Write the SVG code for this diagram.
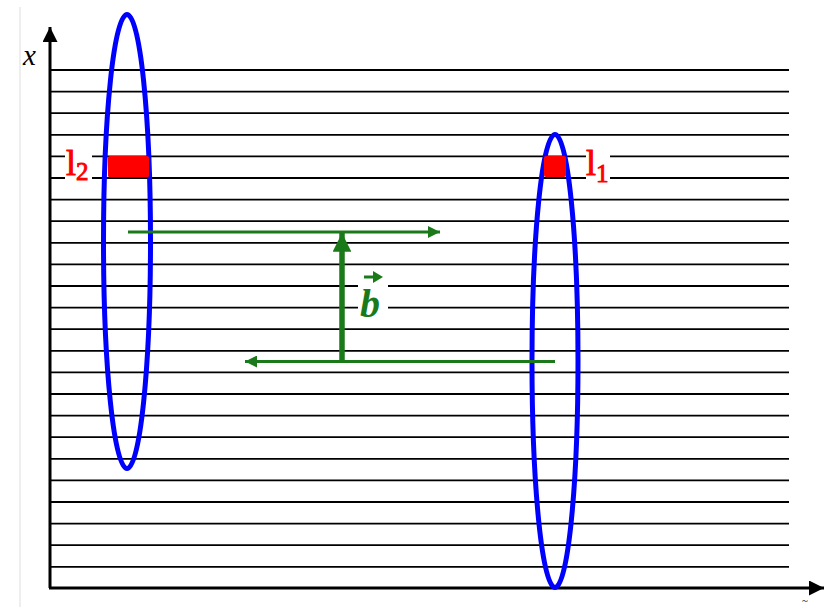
<svg xmlns="http://www.w3.org/2000/svg" width="824" height="607" viewBox="0 0 824 607">
<style>
.grid line{stroke:#000;stroke-width:1.8}
.ell{fill:none;stroke:#0000ff;stroke-width:5}
.cell{fill:#ff0000}
.lbl{font-family:"Liberation Serif","DejaVu Serif",serif;fill:#ff0000;stroke:#ff0000;stroke-width:0.9}
.g{stroke:#1a7a1a;fill:none}
.bg{fill:#fff}
</style>
<defs>
<marker id="ah" viewBox="0 0 10 10" refX="10" refY="5" markerWidth="5" markerHeight="5" markerUnits="strokeWidth" orient="auto"><path d="M0,0L10,5L0,10Z" fill="#000"/></marker>
<marker id="gh" viewBox="0 0 10 10" refX="10" refY="5" markerWidth="4" markerHeight="4" markerUnits="strokeWidth" orient="auto"><path d="M0,0L10,5L0,10Z" fill="#1a7a1a"/></marker>
<marker id="gh2" viewBox="0 0 10 10" refX="10" refY="5" markerWidth="3.4" markerHeight="3.4" markerUnits="strokeWidth" orient="auto"><path d="M0,0L10,5L0,10Z" fill="#1a7a1a"/></marker>
</defs>
<rect width="824" height="607" fill="#fff"/>
<line x1="20" y1="7" x2="20" y2="607" stroke="#dddddd" stroke-width="1"/>
<g class="grid" id="grid">
<line x1="50" y1="70" x2="789" y2="70"/>
<line x1="50" y1="91.6" x2="789" y2="91.6"/>
<line x1="50" y1="113.2" x2="789" y2="113.2"/>
<line x1="50" y1="134.8" x2="789" y2="134.8"/>
<line x1="50" y1="156.4" x2="789" y2="156.4"/>
<line x1="50" y1="178" x2="789" y2="178"/>
<line x1="50" y1="199.6" x2="789" y2="199.6"/>
<line x1="50" y1="221.2" x2="789" y2="221.2"/>
<line x1="50" y1="242.8" x2="789" y2="242.8"/>
<line x1="50" y1="264.4" x2="789" y2="264.4"/>
<line x1="50" y1="286" x2="789" y2="286"/>
<line x1="50" y1="307.6" x2="789" y2="307.6"/>
<line x1="50" y1="329.2" x2="789" y2="329.2"/>
<line x1="50" y1="350.8" x2="789" y2="350.8"/>
<line x1="50" y1="372.4" x2="789" y2="372.4"/>
<line x1="50" y1="394" x2="789" y2="394"/>
<line x1="50" y1="415.6" x2="789" y2="415.6"/>
<line x1="50" y1="437.2" x2="789" y2="437.2"/>
<line x1="50" y1="458.8" x2="789" y2="458.8"/>
<line x1="50" y1="480.4" x2="789" y2="480.4"/>
<line x1="50" y1="502" x2="789" y2="502"/>
<line x1="50" y1="523.6" x2="789" y2="523.6"/>
<line x1="50" y1="545.2" x2="789" y2="545.2"/>
<line x1="50" y1="566.8" x2="789" y2="566.8"/>
</g>
<g id="axes">
<line x1="50" y1="588" x2="50" y2="27" stroke="#000" stroke-width="3" marker-end="url(#ah)"/>
<line x1="49" y1="588" x2="824" y2="588" stroke="#000" stroke-width="3" marker-end="url(#ah)"/>
<text x="23" y="65" font-family="'Liberation Serif','DejaVu Serif',serif" font-style="italic" font-size="29">x</text>
<text x="802" y="604" font-family="'Liberation Serif','DejaVu Serif',serif" font-size="11">~</text>
</g>
<g id="ellipse-left"><ellipse class="ell" cx="127" cy="241.5" rx="23.5" ry="227"/></g>
<g id="ellipse-right"><ellipse class="ell" cx="555" cy="361" rx="23" ry="226.5"/></g>
<g id="cell-l2">
<rect class="cell" x="108" y="156" width="41" height="21.5" rx="2"/>
<rect class="bg" x="65" y="150" width="27" height="34"/>
<text class="lbl" x="66" y="175" font-size="36">l<tspan font-size="25" dy="5">2</tspan></text>
</g>
<g id="cell-l1">
<rect class="cell" x="544" y="156" width="22" height="21" rx="2"/>
<rect class="bg" x="586" y="150" width="24" height="34"/>
<text class="lbl" x="586" y="175" font-size="36">l<tspan font-size="25" dy="7">1</tspan></text>
</g>
<g id="connectors">
<line class="g" x1="128" y1="232" x2="440" y2="232" stroke-width="3" marker-end="url(#gh)"/>
<line class="g" x1="555" y1="361.5" x2="245" y2="361.5" stroke-width="3" marker-end="url(#gh)"/>
<line class="g" x1="342" y1="361" x2="342" y2="233" stroke-width="5.5" marker-end="url(#gh2)"/>
</g>
<g id="label-b">
<rect class="bg" x="358" y="270" width="30" height="50"/>
<text x="360" y="317" font-family="'Liberation Serif','DejaVu Serif',serif" font-weight="bold" font-style="italic" font-size="40" fill="#1a7a1a">b</text>
<line x1="364" y1="277" x2="376" y2="277" stroke="#1a7a1a" stroke-width="3"/>
<path d="M373,271L383,277L373,283Z" fill="#1a7a1a"/>
</g>
</svg>
